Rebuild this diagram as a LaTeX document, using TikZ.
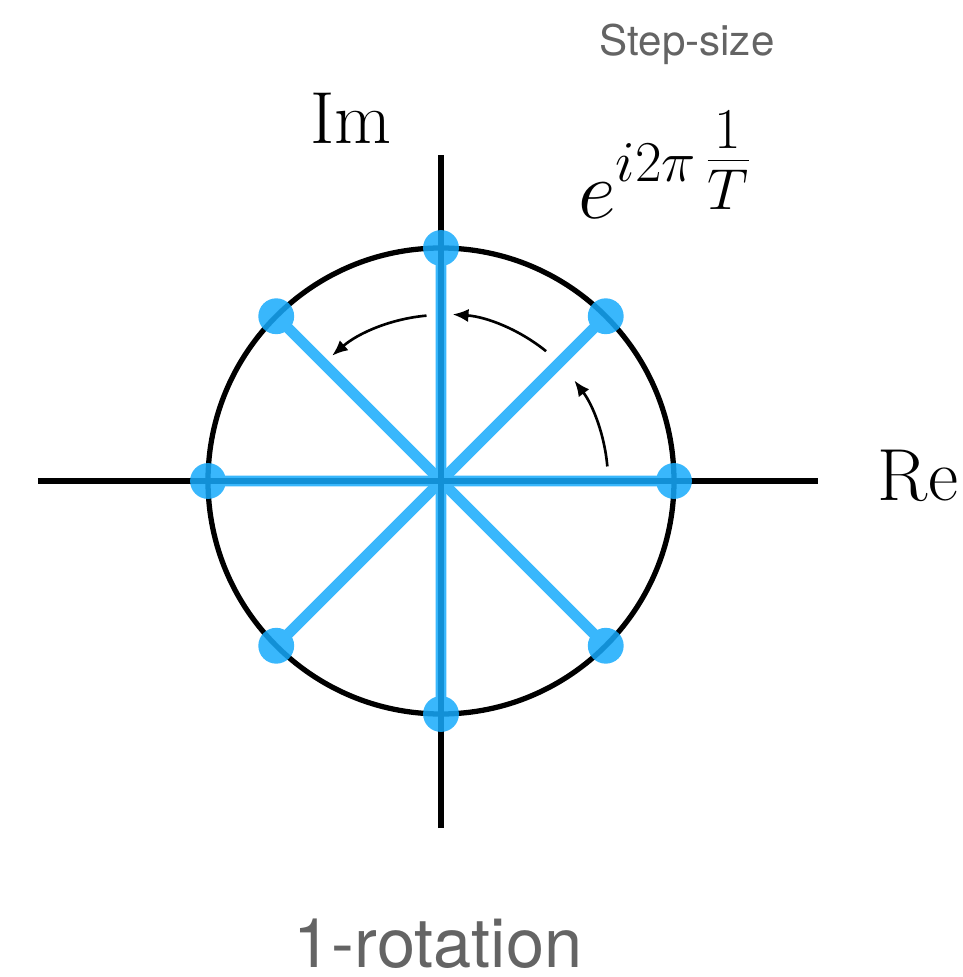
\RequirePackage{fix-cm}
\documentclass[tikz,border=0pt]{standalone}
\usepackage{amsmath}
\usepackage{fontspec}
\newfontfamily\helv{TeX Gyre Heros}
\usepackage{xcolor}
\usetikzlibrary{arrows.meta}

\definecolor{spokeblue}{RGB}{22,170,252}
\definecolor{labelgray}{RGB}{100,100,100}

\begin{document}
\begin{tikzpicture}[x=0.02cm,y=0.02cm,
    axisline/.style={line width=3pt, black},
    spoke/.style={line width=6.2pt, spokeblue},
    dot/.style={circle, fill=spokeblue, inner sep=0pt, minimum size=20.4pt},
    turnarrow/.style={line width=1.5pt, -{Latex[length=9pt,width=7.5pt]}},
    bigtext/.style={font=\fontsize{42}{50}\selectfont},
    graytext/.style={text=labelgray, font=\helv}]
    \useasboundingbox (-441,-496) rectangle (522,481);
    % axes and unit circle
    \coordinate (o) at (0,0);
    \coordinate (xl) at (-403,0);
    \coordinate (xr) at (377,0);
    \coordinate (yb) at (0,-347);
    \coordinate (yt) at (0,326);
    \draw[axisline] (xl) -- (xr);
    \draw[axisline] (yb) -- (yt);
    \draw[axisline] (o) circle (233);
    % roots of unity
    \begin{scope}[transparency group, opacity=0.85]
        \foreach \k in {0,...,7} {
            \node[dot] (p\k) at (45*\k:233) {};
            \draw[spoke] (o) -- (p\k.center);
        }
    \end{scope}
    % step arrows
    \draw[turnarrow] (5:167) arc[start angle=5, end angle=37, radius=167];
    \draw[turnarrow] (51:167) arc[start angle=51, end angle=86, radius=167];
    \draw[turnarrow] (95:166) arc[start angle=95, end angle=131, radius=166];
    % labels
    \node[bigtext] (im) at (-90,363) {Im};
    \node[bigtext] (re) at (477,5) {Re};
    \node[font=\fontsize{47}{56}\selectfont] (step) at (224,316) {$e^{i2\pi\,\tfrac{1}{T}}$};
    \node[graytext, font=\helv\fontsize{24}{28}\selectfont] (steplabel) at (246,437) {Step-size};
    \node[graytext, inner sep=0pt, font=\helv\fontsize{39}{46}\selectfont] (rotlabel) at (-3,-463) {1-rotation};
\end{tikzpicture}
\end{document}
